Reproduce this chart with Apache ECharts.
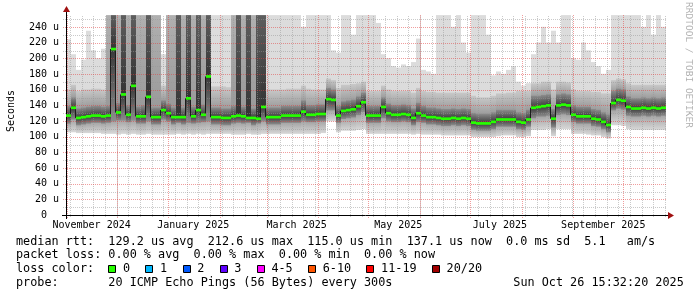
<!DOCTYPE html>
<html><head><meta charset="utf-8">
<script src="https://cdn.jsdelivr.net/npm/echarts@6.0.0/dist/echarts.min.js"></script>
<style>html,body{margin:0;padding:0;background:#fff;}#chart{width:697px;height:297px;}</style>
</head><body><div id="chart"></div>
<script>
// ---- time frame (360 day SmokePing view) ----
const END_TIME = Date.UTC(2025, 9, 26, 15, 32, 20);
const SPAN_DAYS = 360;
const STEP_DAYS = 3;

// ---- median rtt per 3-day column (microseconds) ----
const median = [
 127,137,124,125,126,127,127,126,127,212,
 131,154,128,165,126,126,151,125,125,134,
 130,125,125,125,149,126,134,128,177,125,
 125,124,124,126,127,126,124,124,123,138,
 125,125,125,127,127,127,127,132,128,128,
 129,129,148,147,127,133,134,135,139,144,
 127,127,127,138,130,128,128,129,128,124,
 130,127,125,125,124,123,123,124,123,124,
 123,118,117,117,117,119,122,122,122,122,
 119,118,122,137,138,139,140,123,140,141,
 140,128,126,126,126,123,122,119,115,143,
 147,146,138,136,136,137,136,137,136,137];

// ---- smoke envelope (bottom of smoke) ----
const smokeMin = [
 106,106,105,105,105,105,105,104,104,104,
 103,104,103,104,103,103,104,103,103,103,
 103,103,104,103,104,103,104,103,104,104,
 104,104,104,103,103,103,104,103,103,104,
 104,104,104,104,104,104,104,104,104,104,
 104,105,120,120,106,108,108,108,109,110,
 104,104,104,104,104,104,104,104,104,103,
 104,103,103,103,103,102,102,102,102,102,
 102,100,100,100,100,100,101,102,102,102,
 100,100,101,109,109,109,110,101,110,110,
 110,104,104,104,103,102,102,100,98,115,
 115,114,110,109,109,109,109,109,109,109];

// ---- lower edge of the dark band ----
const smokeLow = [
 117,122,115,116,117,118,118,117,118,120,
 121,121,119,121,117,117,120,116,116,122,
 120,116,118,116,118,117,118,119,120,116,
 116,115,115,117,118,117,118,115,117,120,
 116,116,116,118,118,118,118,120,119,119,
 120,120,134,134,118,123,124,125,128,132,
 118,118,118,124,120,119,119,120,119,115,
 119,118,116,116,115,114,114,115,114,115,
 114,109,108,108,108,110,113,113,113,113,
 110,109,113,124,126,126,127,112,128,129,
 128,119,117,117,117,114,113,110,106,134,
 136,135,127,126,126,127,126,127,126,127];

// ---- upper edge of the dark band ----
const smokeHigh1 = [
 139,150,136,137,138,139,139,138,139,255,
 143,255,140,255,138,140,255,137,137,146,
 142,137,255,137,255,138,255,141,255,137,
 137,136,136,139,255,138,255,136,255,255,
 137,137,137,139,139,139,139,146,140,140,
 141,141,162,160,139,145,146,147,151,156,
 139,139,139,150,142,140,140,141,140,136,
 143,139,137,137,136,135,135,136,135,136,
 135,130,129,129,129,131,134,134,134,134,
 131,130,134,152,152,153,154,135,154,155,
 154,140,138,138,138,135,134,131,128,158,
 161,160,151,149,149,150,149,150,149,150];

// ---- upper edge of the medium-grey band ----
const smokeHigh2 = [
 160,166,158,160,160,161,161,160,255,255,
 255,255,255,255,255,255,255,255,255,165,
 255,255,255,255,255,255,255,255,255,164,
 164,164,163,255,255,255,255,255,255,255,
 160,160,160,160,161,161,161,165,161,160,
 160,160,174,172,162,166,166,167,168,170,
 158,158,158,165,160,158,158,158,158,156,
 162,158,157,157,156,156,156,156,156,156,
 156,152,150,150,150,152,155,155,156,156,
 158,158,158,168,168,170,170,160,170,170,
 169,160,158,158,158,157,157,155,155,172,
 174,173,168,166,166,166,166,166,166,166];

// ---- top of smoke (light grey) ----
const smokeMax = [
 224,205,185,198,235,210,200,212,255,255,
 255,255,255,255,255,255,255,255,255,205,
 255,255,255,255,255,255,255,255,255,255,
 255,255,255,255,255,255,255,255,255,255,
 255,255,255,255,255,255,255,240,255,255,
 255,255,255,210,207,255,255,230,255,255,
 255,255,245,205,200,190,188,192,190,195,
 225,185,183,180,255,255,255,240,255,220,
 207,255,255,255,230,178,183,180,185,190,
 170,165,168,205,220,240,220,235,220,255,
 255,200,198,220,210,195,190,180,185,255,
 255,255,255,255,255,240,255,230,255,240];

// ---- axis ticks / labels ----
const yLabelValues = [0,20,40,60,80,100,120,140,160,180,200,220,240];
const yGridValues = [10,20,30,40,50,60,70,80,90,100,110,120,130,140,150,160,170,180,190,200,210,220,230,240,250];
const xLabelDates = ['2024-11-16','2025-01-16','2025-03-19','2025-05-19','2025-07-19','2025-09-19'];
const xLabelTexts = ['November 2024','January 2025','March 2025','May 2025','July 2025','September 2025'];
const monthLines = ['2024-11-01','2024-12-01','2025-01-01','2025-02-01','2025-03-01','2025-04-01','2025-05-01','2025-06-01','2025-07-01','2025-08-01','2025-09-01','2025-10-01'];
const firstWeekLine = '2024-11-03';

// ---- legend text ----
const statLines = [
 'median rtt:  129.2 us avg  212.6 us max  115.0 us min  137.1 us now  0.0 ms sd  5.1   am/s',
 'packet loss: 0.00 % avg  0.00 % max  0.00 % min  0.00 % now'
];
const lossTitle = 'loss color:';
const lossLabels = ['0','1','2','3','4-5','6-10','11-19','20/20'];
const lossColors = ['#26ff00','#00b8ff','#0059ff','#5e00ff','#ff00ff','#ff5500','#ff0000','#a10000'];
const probeLine = 'probe:       20 ICMP Echo Pings (56 Bytes) every 300s';
const stampText = 'Sun Oct 26 15:32:20 2025';
const yAxisTitle = 'Seconds';
const watermark = 'RRDTOOL / TOBI OETIKER';

// ---------------------------------------------------------------
const DAY = 86400000;
const START_TIME = END_TIME - SPAN_DAYS * DAY;
const toT = s => new Date(s + 'T00:00:00Z').getTime();
const MONO = "'DejaVu Sans Mono', monospace";

const smokeData = median.map((m, i) => [
  START_TIME + i * STEP_DAYS * DAY, START_TIME + (i + 1) * STEP_DAYS * DAY,
  smokeMin[i], smokeLow[i], m, smokeHigh1[i], smokeHigh2[i], smokeMax[i]
]);
const medianData = median.map((m, i) => [
  START_TIME + i * STEP_DAYS * DAY, START_TIME + (i + 1) * STEP_DAYS * DAY,
  m, i + 1 < median.length ? median[i + 1] : m
]);

const gridData = [];
for (let t = toT(firstWeekLine); t < END_TIME; t += 7 * DAY) gridData.push([t, 0, 0]);
monthLines.forEach(s => gridData.push([toT(s), 0, 1]));
yGridValues.forEach(v => gridData.push([START_TIME, v, v % 20 === 0 ? 3 : 2]));
gridData.push([START_TIME, 0, 4]);

const RED = 'rgba(225,60,60,0.5)';
const GRAY = 'rgba(150,150,150,0.5)';
const ARROW = '#a01010';

function grad(top, bottom) {
  return {type: 'linear', x: 0, y: 0, x2: 0, y2: 1, colorStops: [{offset: 0, color: top}, {offset: 1, color: bottom}]};
}

function renderSmoke(params, api) {
  const t0 = api.value(0), t1 = api.value(1);
  const mn = api.value(2), lo = api.value(3), md = api.value(4),
        h1 = api.value(5), h2 = api.value(6), mx = api.value(7);
  const darkCol = h1 >= 250;
  const medCol = !darkCol && h2 >= 250;
  const bands = [
    [mn, lo, grad('#a4a4a4', '#d8d8d8')],
    [h2, mx, '#dcdcdc'],
    [h1, h2, medCol ? grad('#b0b0b0', '#9a9a9a') : grad('#c8c8c8', '#9c9c9c')],
    [lo, md, grad('#383838', '#8c8c8c')],
    [md, h1, darkCol ? grad('#5e5e5e', '#333333') : grad('#8c8c8c', '#383838')]
  ];
  const children = [];
  bands.forEach(([a, b, c]) => {
    if (b <= a) return;
    const p0 = api.coord([t0, b]), p1 = api.coord([t1, a]);
    children.push({type: 'rect', shape: {x: p0[0], y: p0[1] - 0.3, width: p1[0] - p0[0], height: p1[1] - p0[1] + 0.6},
      style: {fill: c}});
  });
  return {type: 'group', children};
}

function renderMedian(params, api) {
  const t0 = api.value(0), t1 = api.value(1), m = api.value(2), n = api.value(3);
  const a = api.coord([t0, m]), b = api.coord([t1, m]), c = api.coord([t1, n]);
  const children = [];
  if (n !== m) {
    const x = Math.round(b[0]) - 0.5;
    children.push({type: 'line', shape: {x1: x, y1: b[1], x2: x, y2: c[1]}, style: {stroke: '#1c1c1c', lineWidth: 1}});
  }
  children.push({type: 'line', shape: {x1: a[0], y1: a[1], x2: b[0], y2: b[1]}, style: {stroke: '#26ff00', lineWidth: 2.7}});
  return {type: 'group', children};
}

function renderGrid(params, api) {
  const t = api.value(0), v = api.value(1), kind = api.value(2);
  const cs = params.coordSys;
  const bottom = cs.y + cs.height, right = cs.x + cs.width;
  if (kind === 0 || kind === 1) {
    const p = api.coord([t, 0]);
    const x = Math.round(p[0]) + 0.5;
    if (x < cs.x + 1) return null;
    return {type: 'line', shape: {x1: x, y1: bottom + (kind === 1 ? 3 : 2), x2: x, y2: cs.y},
      style: {stroke: kind === 1 ? RED : GRAY, lineWidth: 1, lineDash: [1, 1]}};
  }
  if (kind === 2 || kind === 3) {
    const p = api.coord([t, v]);
    const y = Math.round(p[1]) + 0.5;
    return {type: 'line', shape: {x1: cs.x - 3, y1: y, x2: right, y2: y},
      style: {stroke: kind === 3 ? RED : GRAY, lineWidth: 1, lineDash: [1, 1]}};
  }
  const o = api.coord([t, 0]);
  const x0 = Math.round(o[0]) + 0.5, y0 = Math.round(o[1]) + 0.5;
  return {type: 'group', children: [
    {type: 'line', shape: {x1: cs.x - 4, y1: y0, x2: right + 3, y2: y0}, style: {stroke: '#000', lineWidth: 1}},
    {type: 'line', shape: {x1: x0, y1: bottom + 4, x2: x0, y2: cs.y - 3}, style: {stroke: '#000', lineWidth: 1}},
    {type: 'polygon', shape: {points: [[right + 2, y0 - 3.5], [right + 8, y0], [right + 2, y0 + 3.5]]}, style: {fill: ARROW}},
    {type: 'polygon', shape: {points: [[x0 - 3.5, cs.y - 3], [x0, cs.y - 9], [x0 + 3.5, cs.y - 3]]}, style: {fill: ARROW}}
  ]};
}

const xLabelTimes = xLabelDates.map(toT);

const graphics = [];
graphics.push({type: 'text', x: 11, y: 111, rotation: Math.PI / 2,
  style: {text: yAxisTitle, font: `10px ${MONO}`, fill: '#000', align: 'center', verticalAlign: 'middle'}});
graphics.push({type: 'text', x: 688.5, y: 65, rotation: -Math.PI / 2,
  style: {text: watermark, font: `9.5px ${MONO}`, fill: '#b0b0b0', align: 'center', verticalAlign: 'middle'}});
const LX = 16, LFONT = `11.8px ${MONO}`, CW = 7.1;
graphics.push({type: 'text', x: LX, y: 241.5, style: {text: statLines[0], font: LFONT, fill: '#000', align: 'left', verticalAlign: 'middle'}});
graphics.push({type: 'text', x: LX, y: 255.2, style: {text: statLines[1], font: LFONT, fill: '#000', align: 'left', verticalAlign: 'middle'}});
graphics.push({type: 'text', x: LX, y: 269, style: {text: lossTitle, font: LFONT, fill: '#000', align: 'left', verticalAlign: 'middle'}});
let bx = LX + 13 * CW;
lossLabels.forEach((lab, i) => {
  graphics.push({type: 'rect', shape: {x: Math.round(bx) + 0.5, y: 265.5, width: 7, height: 7},
    style: {fill: lossColors[i], stroke: '#000', lineWidth: 1}});
  graphics.push({type: 'text', x: bx + 14.7, y: 269, style: {text: lab, font: LFONT, fill: '#000', align: 'left', verticalAlign: 'middle'}});
  bx += 30 + CW * lab.length;
});
graphics.push({type: 'text', x: LX, y: 282.8, style: {text: probeLine, font: LFONT, fill: '#000', align: 'left', verticalAlign: 'middle'}});
graphics.push({type: 'text', x: 513.3, y: 282.8, style: {text: stampText, font: LFONT, fill: '#000', align: 'left', verticalAlign: 'middle'}});

const chart = echarts.init(document.getElementById('chart'), null, {renderer: 'canvas'});
chart.setOption({
  backgroundColor: '#ffffff',
  animation: false,
  grid: {left: 66, top: 15, width: 600, height: 200},
  xAxis: {
    type: 'value', min: START_TIME, max: END_TIME, scale: true,
    axisLine: {show: false}, axisTick: {show: false}, splitLine: {show: false},
    axisLabel: {
      customValues: xLabelTimes, hideOverlap: false,
      margin: 5, color: '#000', fontFamily: MONO, fontSize: 10,
      formatter: v => {
        let best = 0, bd = Infinity;
        xLabelTimes.forEach((t, i) => { const d = Math.abs(t - v); if (d < bd) { bd = d; best = i; } });
        return bd < DAY ? xLabelTexts[best] : '';
      }
    }
  },
  yAxis: {
    type: 'value', min: 0, max: 255.5,
    axisLine: {show: false}, axisTick: {show: false}, splitLine: {show: false},
    axisLabel: {
      customValues: yLabelValues, margin: 7, color: '#000', fontFamily: MONO, fontSize: 10,
      formatter: v => (v === 0 ? '0\u00a0\u00a0' : (v % 20 === 0 ? v + ' u' : ''))
    }
  },
  series: [
    {type: 'custom', name: 'smoke', data: smokeData, renderItem: renderSmoke, clip: true, z: 2,
      encode: {x: [0, 1], y: [2, 7]}, silent: true},
    {type: 'custom', name: 'grid', data: gridData, renderItem: renderGrid, clip: false, z: 3, silent: true,
      encode: {x: 0, y: 1}},
    {type: 'custom', name: 'median', data: medianData, renderItem: renderMedian, clip: true, z: 4,
      encode: {x: [0, 1], y: [2, 3]}, silent: true}
  ],
  graphic: graphics
});
</script></body></html>
